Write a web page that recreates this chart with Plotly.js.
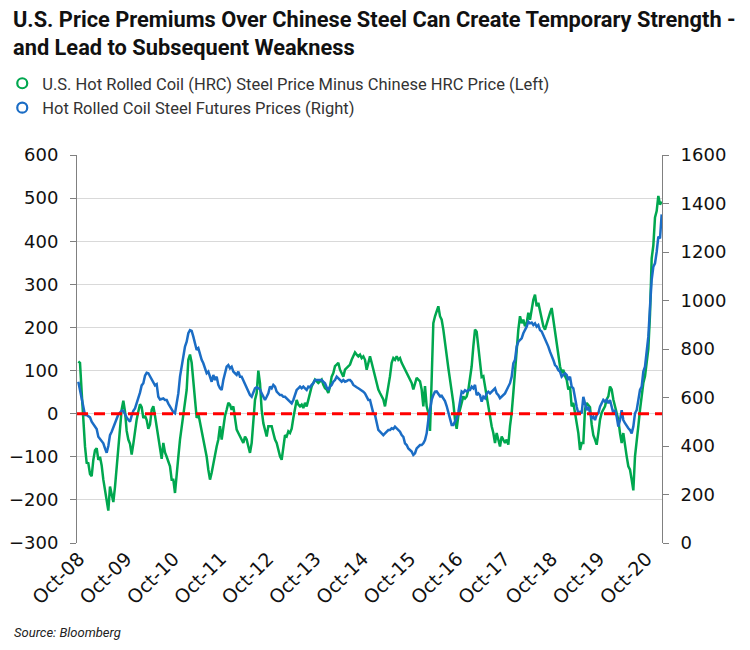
<!DOCTYPE html>
<html>
<head>
<meta charset="utf-8">
<script src="https://cdn.plot.ly/plotly-3.0.1.min.js"></script>
<style>html,body{margin:0;padding:0;background:#fff;}#chart{width:750px;height:650px;}</style>
</head>
<body>
<div id="chart"></div>
<script>
// Sampling of the series (regular grid)
const firstDate = '2008-09-26';
const stepDays = 12.87;

// U.S. HRC minus Chinese HRC price (left axis)
const hrcSpread = [
121,118,50,-20,-76,-114,-115,-140,-145,-107,
-85,-80,-107,-100,-120,-153,-175,-200,-225,-169,
-192,-205,-170,-120,-68,-25,10,30,5,-40,
-60,-70,-95,-70,-35,-14,5,22,15,-10,
-5,-15,-35,-25,9,17,-5,-30,-50,-75,
-105,-68,-90,-100,-110,
-122,-153,-153,-184,-135,-100,-60,-30,-5,20,
55,125,137,118,71,17,-10,0,-20,-40,
-55,-75,-100,-130,-153,-137,-114,-99,-76,-60,
-29,-60,-29,-5,9,25,21,9,17,-14,
-37,-45,-53,-60,-68,-53,-60,-76,-91,-68,
-14,32,48,100,70,9,-22,-37,-53,-29,
-29,-29,-45,-60,-68,-84,-99,-107,-75,-50,
-53,-41,-45,-35,-10,10,32,21,17,21,
13,25,17,32,48,63,71,79,75,71,
75,79,67,59,56,48,63,86,94,110,
114,118,102,94,86,102,106,110,114,125,
133,142,137,133,137,129,133,125,102,118,
133,118,102,87,71,56,48,40,33,17,
40,56,87,118,129,125,133,125,129,118,
110,102,95,87,79,71,56,71,83,79,
75,56,17,64,17,2,-40,80,210,226,
241,249,226,218,195,164,125,106,79,56,
25,-14,-35,-5,10,25,40,35,40,55,
79,110,156,195,190,155,125,85,87,63,
48,17,-6,-29,-45,-68,-45,-60,-76,-53,
-60,-68,-60,-72,-29,2,48,94,156,195,
226,210,218,203,210,234,218,241,264,276,
249,257,241,226,203,195,210,218,234,245,
218,187,156,133,110,94,102,87,79,56,
63,17,25,2,-22,-45,-84,-68,-68,10,
25,20,15,-25,-50,-60,-72,-45,-14,2,
9,17,33,40,63,56,33,17,2,-14,
-45,-68,-45,-76,-99,-122,-130,-153,-178,-99,
-68,-29,9,48,71,87,118,150,230,360,
390,455,470,505,485,492
];

// Hot rolled coil steel futures prices (right axis)
const hrcFutures = [
665,630,605,560,528,528,524,518,500,490,
483,470,438,428,418,411,390,372,400,445,
459,475,492,514,530,538,545,545,528,518,
508,500,525,545,555,576,590,620,650,659,
690,702,700,686,676,660,650,655,603,592,
594,596,590,590,575,
562,548,540,535,576,617,686,727,782,810,
830,865,878,875,851,823,796,803,775,755,
741,720,700,707,686,665,693,672,686,652,
638,631,672,700,727,734,720,727,707,700,
693,707,686,686,672,659,645,631,610,603,
624,638,642,638,634,617,603,590,603,617,
645,638,652,645,624,617,610,610,603,603,
597,590,583,576,590,610,631,638,645,638,
645,638,631,645,642,652,659,672,672,675,
672,672,665,659,642,631,645,652,665,672,
686,679,672,665,672,665,668,672,672,665,
652,645,642,638,634,628,624,617,603,590,
590,555,535,528,494,466,459,452,445,452,
459,466,466,473,470,480,473,466,459,445,
438,411,404,390,383,377,363,370,390,397,
404,404,411,425,452,507,555,590,610,624,
625,613,605,607,595,585,565,540,505,487,
487,500,515,540,590,625,620,630,625,631,
631,645,638,652,610,617,610,583,603,597,
617,624,617,624,631,638,617,610,597,603,
610,617,631,645,659,686,741,755,810,830,
837,844,865,878,892,913,906,909,899,906,
892,899,878,872,858,837,823,810,789,775,
755,734,727,713,707,686,693,700,693,672,
686,645,638,590,562,535,541,535,603,576,
548,562,535,514,521,507,528,535,562,576,
590,583,590,576,590,562,535,548,521,480,
507,548,507,494,480,473,466,452,480,535,
548,590,631,645,707,727,796,851,974,1085,
1139,1153,1200,1263,1256,1355
];

const tickDates = ['2008-10-01','2009-10-01','2010-10-01','2011-10-01','2012-10-01','2013-10-01','2014-10-01','2015-10-01','2016-10-01','2017-10-01','2018-10-01','2019-10-01','2020-10-01'];
const tickLabels = ['Oct-08','Oct-09','Oct-10','Oct-11','Oct-12','Oct-13','Oct-14','Oct-15','Oct-16','Oct-17','Oct-18','Oct-19','Oct-20'];

const leftTicks = [-300,-200,-100,0,100,200,300,400,500,600];
const rightTicks = [0,200,400,600,800,1000,1200,1400,1600];

const titleText = 'U.S. Price Premiums Over Chinese Steel Can Create Temporary Strength -<br>and Lead to Subsequent Weakness';
const seriesNames = ['U.S. Hot Rolled Coil (HRC) Steel Price Minus Chinese HRC Price (Left)', 'Hot Rolled Coil Steel Futures Prices (Right)'];
const sourceText = 'Source: Bloomberg';
const greenColor = '#00A74F';
const blueColor = '#1B6DC5';

function buildDates(start, step, n) {
  const t0 = new Date(start + 'T00:00:00Z').getTime();
  const out = [];
  for (let i = 0; i < n; i++) {
    out.push(new Date(t0 + i * step * 86400000).toISOString().slice(0, 19).replace('T', ' '));
  }
  return out;
}
const dates = buildDates(firstDate, stepDays, hrcSpread.length);
const t0ms = new Date(firstDate + 'T00:00:00Z').getTime();
const stepMs = stepDays * 86400000;
const rangeStart = new Date(t0ms - 0.8 * stepMs).toISOString().slice(0, 19).replace('T', ' ');
const rangeEnd = new Date(t0ms + (hrcSpread.length - 1 + 0.2) * stepMs).toISOString().slice(0, 19).replace('T', ' ');

const tickFont = {family: 'DejaVu Sans', size: 18, color: '#111'};

// pixel helpers for paper coords of annotations (plot area 77..662 x 155..543)
const px = (x) => (x - 77) / 585;
const py = (y) => (543 - y) / 388;

const traces = [
  {x: dates, y: hrcSpread, type: 'scatter', mode: 'lines', yaxis: 'y', showlegend: false, hoverinfo: 'skip',
   line: {color: greenColor, width: 2.5}},
  {x: dates, y: hrcFutures, type: 'scatter', mode: 'lines', yaxis: 'y2', showlegend: false, hoverinfo: 'skip',
   line: {color: blueColor, width: 2.5}},
  {x: [null], y: [null], type: 'scatter', mode: 'markers', name: seriesNames[0], yaxis: 'y',
   marker: {symbol: 'circle-open', size: 10, color: greenColor, line: {width: 2.2, color: greenColor}}},
  {x: [null], y: [null], type: 'scatter', mode: 'markers', name: seriesNames[1], yaxis: 'y2',
   marker: {symbol: 'circle-open', size: 10, color: blueColor, line: {width: 2.2, color: blueColor}}}
];

const layout = {
  width: 750, height: 650,
  margin: {l: 77, r: 88, t: 155, b: 107, pad: 0, autoexpand: false},
  paper_bgcolor: '#ffffff', plot_bgcolor: '#ffffff',
  showlegend: true,
  legend: {
    xref: 'container', yref: 'container', x: 0.003, y: 1 - 66 / 650, xanchor: 'left', yanchor: 'top',
    font: {family: 'Roboto', size: 16.5, color: '#333'}, bgcolor: 'rgba(0,0,0,0)', itemwidth: 30,
    traceorder: 'normal'
  },
  xaxis: {
    type: 'date', range: [rangeStart, rangeEnd], tickmode: 'array', tickvals: tickDates, ticktext: tickLabels,
    tickangle: -45, tickfont: {family: 'DejaVu Sans', size: 19, color: '#111'},
    showgrid: false, showline: false, zeroline: false, ticks: ''
  },
  yaxis: {
    range: [-300, 600], tickmode: 'array', tickvals: leftTicks, showgrid: true, gridcolor: '#d9d9d9', gridwidth: 1,
    showline: true, linecolor: '#808080', linewidth: 1, ticks: 'outside', ticklen: 6, tickcolor: '#808080',
    tickfont: tickFont, zeroline: false, ticklabelstandoff: 8
  },
  yaxis2: {
    overlaying: 'y', side: 'right', range: [0, 1600], tickmode: 'array', tickvals: rightTicks,
    showgrid: false, showline: true, linecolor: '#808080', linewidth: 1, ticks: 'outside', ticklen: 6,
    tickcolor: '#808080', tickfont: tickFont, zeroline: false, ticklabelstandoff: 8
  },
  shapes: [
    {type: 'line', xref: 'paper', x0: 0, x1: 1, yref: 'y', y0: 0, y1: 0, layer: 'above',
     line: {color: '#ff0000', width: 3, dash: '11px,6px'}}
  ],
  annotations: [
    {text: '<b>' + titleText + '</b>', xref: 'paper', yref: 'paper', x: px(11), y: py(5),
     xanchor: 'left', yanchor: 'top', align: 'left', showarrow: false,
     font: {family: 'Roboto', size: 21.8, color: '#111'}},
    {text: '<i>' + sourceText + '</i>', xref: 'paper', yref: 'paper', x: px(12), y: py(632),
     xanchor: 'left', yanchor: 'middle', showarrow: false, font: {family: 'Roboto', size: 13, color: '#222'}}
  ]
};

Plotly.newPlot('chart', traces, layout, {staticPlot: true, displayModeBar: false});
</script>
</body>
</html>
